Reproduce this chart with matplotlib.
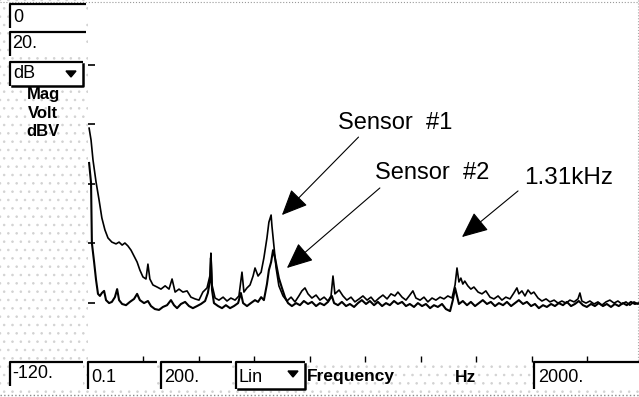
import matplotlib
matplotlib.use("Agg")
import matplotlib.pyplot as plt
from matplotlib.patches import Rectangle, Polygon

plt.rcParams['font.family'] = ['Liberation Sans', 'DejaVu Sans']

# spectrum readings (Hz, dB)
s1_freq = [4, 11, 18, 29, 40, 50, 61, 72, 86, 101, 112, 123, 133, 144, 155, 166, 177, 187,
           198, 209, 216, 223, 234, 249, 263, 278, 292, 303, 314, 328, 342, 357, 371, 386,
           400, 414, 429, 440, 443, 447, 458, 472, 487, 501, 515, 530, 544, 555, 562, 573,
           584, 595, 602, 613, 624, 634, 645, 652, 660, 663, 670, 678, 688, 703, 717, 732,
           746, 760, 771, 782, 793, 807, 822, 836, 851, 865, 876, 883, 890, 905, 919, 933,
           948, 962, 977, 991, 1006, 1020, 1034, 1049, 1063, 1078, 1092, 1106, 1117, 1132,
           1146, 1160, 1171, 1182, 1197, 1211, 1225, 1240, 1254, 1269, 1283, 1297, 1312,
           1323, 1330, 1337, 1344, 1351, 1358, 1369, 1380, 1391, 1406, 1420, 1434, 1449,
           1463, 1478, 1492, 1506, 1521, 1535, 1546, 1553, 1564, 1575, 1586, 1597, 1607,
           1622, 1636, 1651, 1665, 1680, 1694, 1708, 1723, 1737, 1752, 1766, 1773, 1780,
           1795, 1809, 1824, 1838, 1852, 1867, 1881, 1896, 1910, 1924, 1939, 1953, 1968, 1982]
s1_db = [-41.4, -45.4, -52.1, -59.5, -65.6, -71.6, -75.6, -78.3, -79.7, -80.3, -79.7, -80.7,
         -80.0, -81.0, -82.4, -84.4, -86.4, -89.1, -91.4, -92.1, -87.1, -92.1, -94.1, -94.8,
         -95.5, -94.4, -95.5, -92.1, -96.5, -95.5, -96.5, -96.1, -98.2, -98.8, -99.2, -96.5,
         -95.1, -90.8, -83.4, -94.1, -98.5, -99.2, -98.2, -99.5, -98.5, -99.2, -97.8, -89.8,
         -96.5, -95.1, -94.1, -91.1, -88.4, -91.1, -89.8, -85.0, -78.3, -73.0, -70.6, -74.3,
         -81.0, -88.4, -94.4, -97.8, -99.5, -98.2, -99.8, -97.8, -96.1, -95.1, -97.1, -98.5,
         -97.5, -99.2, -98.2, -99.5, -97.8, -91.1, -97.1, -95.8, -97.8, -99.2, -98.2, -99.8,
         -98.8, -97.8, -99.2, -98.2, -99.8, -98.5, -97.5, -98.8, -97.1, -97.8, -96.5, -98.2,
         -99.2, -97.5, -96.1, -98.5, -99.2, -98.2, -99.8, -98.5, -99.2, -98.2, -98.8, -97.8,
         -98.5, -94.1, -88.4, -93.1, -91.8, -93.8, -92.8, -94.4, -95.5, -94.8, -96.5, -97.1,
         -96.1, -98.2, -98.8, -97.8, -99.2, -98.2, -98.8, -96.8, -95.1, -97.1, -96.1, -97.8,
         -95.8, -97.1, -96.5, -98.5, -99.5, -98.8, -99.8, -99.2, -100.2, -99.5, -100.2, -99.2,
         -99.8, -98.8, -96.8, -99.5, -100.2, -99.5, -100.5, -99.8, -100.9, -99.8, -99.2,
         -100.2, -99.5, -100.5, -99.8, -100.9, -99.8, -100.5]

s2_freq = [4, 11, 14, 22, 29, 36, 43, 50, 58, 65, 76, 86, 97, 105, 112, 123, 137, 151, 166,
           177, 187, 202, 216, 227, 241, 256, 270, 285, 299, 310, 321, 335, 350, 364, 378,
           393, 407, 422, 432, 440, 443, 447, 454, 469, 483, 497, 512, 526, 541, 551, 559,
           573, 587, 602, 613, 624, 634, 645, 652, 660, 667, 674, 681, 688, 699, 710, 721,
           735, 750, 764, 778, 793, 807, 822, 836, 851, 865, 879, 887, 901, 915, 930, 944,
           959, 973, 987, 1002, 1016, 1031, 1045, 1060, 1074, 1088, 1103, 1117, 1132, 1146,
           1160, 1175, 1189, 1204, 1218, 1233, 1247, 1261, 1276, 1290, 1305, 1315, 1323,
           1330, 1337, 1351, 1366, 1380, 1395, 1409, 1423, 1438, 1452, 1467, 1481, 1496,
           1510, 1525, 1539, 1553, 1568, 1582, 1597, 1611, 1625, 1640, 1654, 1669, 1683,
           1697, 1712, 1726, 1741, 1755, 1769, 1784, 1798, 1813, 1827, 1841, 1856, 1870,
           1885, 1899, 1913, 1928, 1942, 1957, 1971, 1986]
s2_db = [-53.1, -59.8, -80.0, -86.4, -92.4, -97.1, -97.8, -96.8, -96.1, -99.2, -100.2, -99.8,
         -98.2, -95.5, -99.2, -100.5, -100.9, -99.8, -98.8, -97.1, -99.2, -100.2, -99.5,
         -101.2, -102.2, -102.5, -101.5, -100.9, -99.2, -100.9, -101.9, -100.5, -99.8,
         -101.2, -101.9, -101.2, -100.5, -99.5, -96.8, -92.4, -85.0, -95.8, -100.2, -101.2,
         -101.9, -100.9, -101.9, -101.2, -100.2, -96.8, -100.2, -101.2, -100.2, -99.2, -99.8,
         -98.2, -99.2, -93.8, -89.1, -86.4, -82.4, -85.0, -88.4, -91.8, -95.1, -98.2, -100.2,
         -101.2, -100.2, -100.9, -99.5, -100.5, -99.8, -101.2, -100.2, -100.9, -99.8, -97.8,
         -100.2, -100.9, -99.8, -101.2, -100.5, -101.5, -100.2, -99.2, -100.5, -99.5, -100.9,
         -99.8, -101.2, -100.2, -100.9, -99.5, -100.5, -99.8, -101.2, -100.5, -101.5, -100.2,
         -101.2, -100.5, -101.9, -100.9, -101.5, -100.5, -102.2, -102.9, -99.2, -95.1, -97.8,
         -100.5, -99.5, -100.9, -99.8, -101.2, -100.2, -99.2, -100.5, -99.8, -101.2, -100.2,
         -100.9, -99.8, -101.2, -100.2, -99.2, -100.5, -99.8, -101.2, -100.5, -101.9, -100.9,
         -101.5, -100.5, -101.2, -100.2, -100.9, -99.8, -101.2, -100.5, -99.5, -100.9, -101.5,
         -100.5, -101.2, -100.2, -101.2, -100.5, -101.5, -100.5, -101.2, -100.2, -100.9,
         -99.8, -100.5, -100.2]

y_ticks = [-20, -40, -60, -80, -100]
x_ticks = [200, 400, 600, 800, 1000, 1200, 1400, 1600, 1800]

W, H = 639, 397
fig = plt.figure(figsize=(W / 100, H / 100), dpi=100)

# panel chrome drawn in pixel coordinates
bg = fig.add_axes([0, 0, 1, 1])
bg.set_xlim(0, W)
bg.set_ylim(H, 0)
bg.axis('off')

plt.rcParams['hatch.linewidth'] = 0.6
stipple = dict(facecolor='white', edgecolor='#d2d2d2', hatch='..', linewidth=0)
bg.add_patch(Rectangle((0, 0), 88, H, **stipple))
bg.add_patch(Rectangle((88, 362), W - 88, H - 362, **stipple))
bg.plot([0, W], [1.5, 1.5], color='#999999', lw=0.8, ls=':')
bg.plot([W - 1, W - 1], [0, 362], color='#aaaaaa', lw=0.8, ls=':')
bg.plot([0, W], [H - 2, H - 2], color='#888888', lw=1.0, ls=':')


def box(x0, y0, x1, y1, menu=False):
    bg.add_patch(Rectangle((x0, y0), x1 - x0, y1 - y0, facecolor='white', edgecolor='none'))
    bg.plot([x0, x0, x1], [y1, y0, y0], color='black', lw=1.6, solid_capstyle='butt')
    if menu:
        bg.plot([x0 + 2, x1, x1], [y1, y1, y0 + 2], color='black', lw=1.8)
        ax0 = x1 - 12
        bg.add_patch(Polygon([[ax0 - 5, y0 + 9], [ax0 + 5, y0 + 9], [ax0, y0 + 15]],
                             closed=True, facecolor='black', edgecolor='black'))


box(10, 4, 86, 28)
box(10, 32, 86, 56)
box(10, 62, 83, 86, menu=True)
box(10, 362, 83, 386)
box(88, 362, 157, 389)
box(161, 362, 232, 389)
box(236, 362, 305, 389, menu=True)
box(534, 362, 645, 389)

txt = dict(fontsize=13, va='center', ha='left', color='black')
bg.text(13, 17, '0', **txt)
bg.text(12, 44, '20.', **txt)
bg.text(13, 74, 'dB', **txt)
bg.text(12, 374, '-120.', **txt)
bg.text(91, 377, '0.1', **txt)
bg.text(164, 377, '200.', **txt)
bg.text(239, 377, 'Lin', **txt)
bg.text(538, 377, '2000.', **txt)
bold = dict(va='center', fontweight='bold', color='black')
bg.text(307, 377, 'Frequency', ha='left', fontsize=12.5, **bold)
bg.text(455, 377, 'Hz', ha='left', fontsize=12.5, **bold)
for label, yy in [('Mag', 94), ('Volt', 113), ('dBV', 132)]:
    bg.text(43, yy, label, ha='center', fontsize=12, **bold)

# spectrum plot
ax = fig.add_axes([88 / W, (H - 362) / H, (W - 88) / W, (362 - 5) / H])
ax.patch.set_alpha(0)
ax.plot(s1_freq, s1_db, color='black', lw=1.2)
ax.plot(s2_freq, s2_db, color='black', lw=1.5)
ax.set_xlim(0, 1986)
ax.set_ylim(-120, 0)
for sp in ax.spines.values():
    sp.set_visible(False)
ax.set_yticks(y_ticks)
ax.set_xticks(x_ticks)
ax.tick_params(axis='y', direction='in', length=5, width=1.2, labelleft=False)
ax.tick_params(axis='x', direction='in', length=4, width=1.0, labelbottom=False)

arrow = dict(arrowstyle='-|>,head_length=0.9,head_width=0.4', color='black', lw=0.8,
             shrinkA=0, shrinkB=0, mutation_scale=18)
ax.annotate('', xy=(699, -70.6), xytext=(975, -44.4), arrowprops=arrow)
ax.text(1106, -39.7, 'Sensor  #1', ha='center', va='center', fontsize=17)
ax.annotate('', xy=(717, -88.4), xytext=(1052, -61.5), arrowprops=arrow)
ax.text(1240, -56.5, 'Sensor  #2', ha='center', va='center', fontsize=17)
ax.annotate('', xy=(1348, -78.0), xytext=(1550, -62.5), arrowprops=arrow)
ax.text(1734, -58.2, '1.31kHz', ha='center', va='center', fontsize=17.5)

fig.savefig('out.png', dpi=100)
